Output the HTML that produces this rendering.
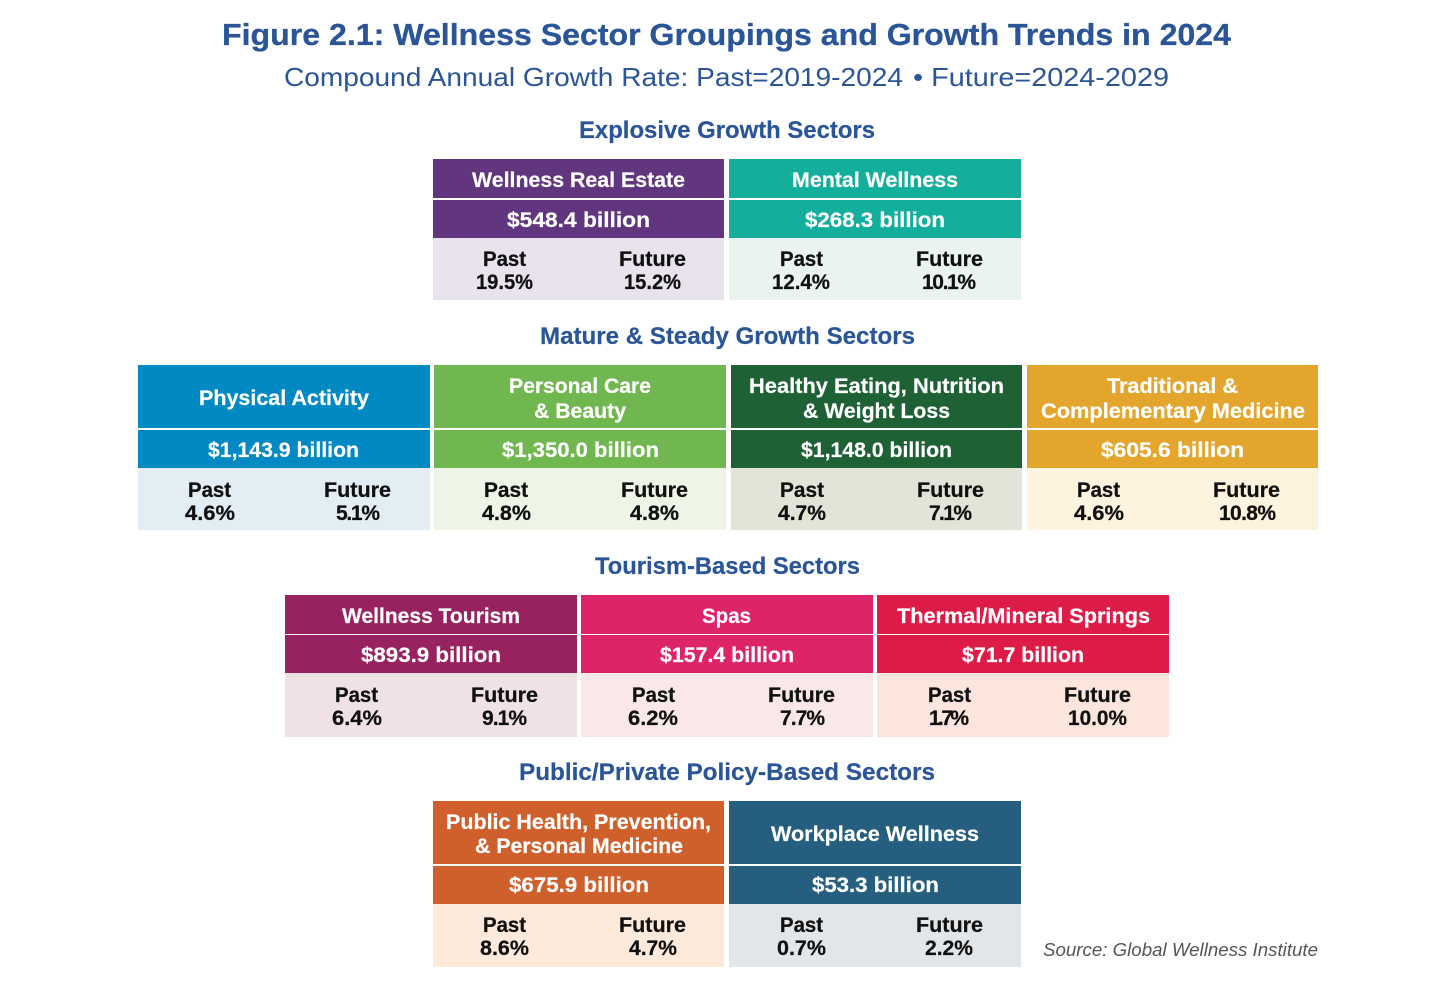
<!DOCTYPE html>
<html lang="en">
<head>
<meta charset="utf-8">
<title>Figure 2.1: Wellness Sector Groupings and Growth Trends in 2024</title>
<style>
html,body{margin:0;padding:0;background:#fff;width:1456px;height:986px;overflow:hidden}
svg{display:block;font-family:"Liberation Sans",sans-serif}
text{font-weight:700}
.title{font-size:31px;fill:#2a5596;stroke:#2a5596;stroke-width:.3px}
.sub{font-size:26px;fill:#2a5596;font-weight:400}
.sec{font-size:24px;fill:#2a5596;stroke:#2a5596;stroke-width:.2px}
.w{font-size:21px;fill:#fff;stroke:#fff;stroke-width:.2px}
.k{font-size:21px;fill:#111;stroke:#111;stroke-width:.25px}
.src{font-size:18px;fill:#555;font-weight:400;font-style:italic}
</style>
</head>
<body>
<svg width="1456" height="986" viewBox="0 0 1456 986">
<rect width="1456" height="986" fill="#fff"/>
<text class="title" x="222" y="45" textLength="1009" lengthAdjust="spacingAndGlyphs">Figure 2.1: Wellness Sector Groupings and Growth Trends in 2024</text>
<text class="sub" x="284" y="86" textLength="619" lengthAdjust="spacingAndGlyphs">Compound Annual Growth Rate: Past=2019-2024</text>
<text class="sub" x="913" y="86" textLength="256" lengthAdjust="spacingAndGlyphs">• Future=2024-2029</text>

<text class="sec" x="579" y="138" textLength="296" lengthAdjust="spacingAndGlyphs">Explosive Growth Sectors</text>

<g>
<rect x="433" y="159" width="291" height="39" fill="#62357f"/>
<rect x="433" y="200" width="291" height="38" fill="#62357f"/>
<rect x="433" y="238" width="291" height="62" fill="#e8e3ec"/>
<text class="w" x="472" y="187" textLength="213" lengthAdjust="spacingAndGlyphs">Wellness Real Estate</text>
<text class="w" x="507" y="227" textLength="143" lengthAdjust="spacingAndGlyphs">$548.4 billion</text>
<text class="k" x="483" y="266" textLength="43" lengthAdjust="spacingAndGlyphs">Past</text>
<text class="k" x="619" y="266" textLength="67" lengthAdjust="spacingAndGlyphs">Future</text>
<text class="k" x="476" y="289" textLength="57" lengthAdjust="spacingAndGlyphs">19.5%</text>
<text class="k" x="624" y="289" textLength="57" lengthAdjust="spacingAndGlyphs">15.2%</text>
</g>

<g>
<rect x="729" y="159" width="292" height="39" fill="#14ae9c"/>
<rect x="729" y="200" width="292" height="38" fill="#14ae9c"/>
<rect x="729" y="238" width="292" height="62" fill="#e9f3f0"/>
<text class="w" x="792" y="187" textLength="166" lengthAdjust="spacingAndGlyphs">Mental Wellness</text>
<text class="w" x="805" y="227" textLength="140" lengthAdjust="spacingAndGlyphs">$268.3 billion</text>
<text class="k" x="780" y="266" textLength="43" lengthAdjust="spacingAndGlyphs">Past</text>
<text class="k" x="916" y="266" textLength="67" lengthAdjust="spacingAndGlyphs">Future</text>
<text class="k" x="772" y="289" textLength="58" lengthAdjust="spacingAndGlyphs">12.4%</text>
<text class="k" x="922" y="289" textLength="54" lengthAdjust="spacing">10.1%</text>
</g>

<text class="sec" x="540" y="344" textLength="375" lengthAdjust="spacingAndGlyphs">Mature &amp; Steady Growth Sectors</text>

<g>
<rect x="138" y="365" width="292" height="63" fill="#0089c3"/>
<rect x="138" y="430" width="292" height="38" fill="#0089c3"/>
<rect x="138" y="468" width="292" height="62" fill="#e2edf4"/>
<text class="w" x="199" y="405" textLength="170" lengthAdjust="spacingAndGlyphs">Physical Activity</text>
<text class="w" x="208" y="457" textLength="151" lengthAdjust="spacingAndGlyphs">$1,143.9 billion</text>
<text class="k" x="188" y="497" textLength="43" lengthAdjust="spacingAndGlyphs">Past</text>
<text class="k" x="324" y="497" textLength="67" lengthAdjust="spacingAndGlyphs">Future</text>
<text class="k" x="185" y="520" textLength="50" lengthAdjust="spacingAndGlyphs">4.6%</text>
<text class="k" x="336" y="520" textLength="44" lengthAdjust="spacing">5.1%</text>
</g>

<g>
<rect x="434" y="365" width="292" height="63" fill="#70b74f"/>
<rect x="434" y="430" width="292" height="38" fill="#70b74f"/>
<rect x="434" y="468" width="292" height="62" fill="#eff5e6"/>
<text class="w" x="509" y="393" textLength="142" lengthAdjust="spacingAndGlyphs">Personal Care</text>
<text class="w" x="534" y="418" textLength="92" lengthAdjust="spacingAndGlyphs">&amp; Beauty</text>
<text class="w" x="502" y="457" textLength="157" lengthAdjust="spacingAndGlyphs">$1,350.0 billion</text>
<text class="k" x="484" y="497" textLength="44" lengthAdjust="spacingAndGlyphs">Past</text>
<text class="k" x="621" y="497" textLength="67" lengthAdjust="spacingAndGlyphs">Future</text>
<text class="k" x="482" y="520" textLength="49" lengthAdjust="spacingAndGlyphs">4.8%</text>
<text class="k" x="630" y="520" textLength="49" lengthAdjust="spacingAndGlyphs">4.8%</text>
</g>

<g>
<rect x="731" y="365" width="291" height="63" fill="#1e6134"/>
<rect x="731" y="430" width="291" height="38" fill="#1e6134"/>
<rect x="731" y="468" width="291" height="62" fill="#e0e5d8"/>
<text class="w" x="749" y="393" textLength="255" lengthAdjust="spacingAndGlyphs">Healthy Eating, Nutrition</text>
<text class="w" x="803" y="418" textLength="147" lengthAdjust="spacingAndGlyphs">&amp; Weight Loss</text>
<text class="w" x="801" y="457" textLength="151" lengthAdjust="spacingAndGlyphs">$1,148.0 billion</text>
<text class="k" x="780" y="497" textLength="44" lengthAdjust="spacingAndGlyphs">Past</text>
<text class="k" x="917" y="497" textLength="67" lengthAdjust="spacingAndGlyphs">Future</text>
<text class="k" x="778" y="520" textLength="48" lengthAdjust="spacingAndGlyphs">4.7%</text>
<text class="k" x="929" y="520" textLength="43" lengthAdjust="spacing">7.1%</text>
</g>

<g>
<rect x="1027" y="365" width="291" height="63" fill="#e3a52b"/>
<rect x="1027" y="430" width="291" height="38" fill="#e3a52b"/>
<rect x="1027" y="468" width="291" height="62" fill="#fef3de"/>
<text class="w" x="1107" y="393" textLength="131" lengthAdjust="spacingAndGlyphs">Traditional &amp;</text>
<text class="w" x="1041" y="418" textLength="264" lengthAdjust="spacingAndGlyphs">Complementary Medicine</text>
<text class="w" x="1101" y="457" textLength="143" lengthAdjust="spacingAndGlyphs">$605.6 billion</text>
<text class="k" x="1077" y="497" textLength="43" lengthAdjust="spacingAndGlyphs">Past</text>
<text class="k" x="1213" y="497" textLength="67" lengthAdjust="spacingAndGlyphs">Future</text>
<text class="k" x="1074" y="520" textLength="50" lengthAdjust="spacingAndGlyphs">4.6%</text>
<text class="k" x="1219" y="520" textLength="57" lengthAdjust="spacing">10.8%</text>
</g>

<text class="sec" x="595" y="574" textLength="265" lengthAdjust="spacingAndGlyphs">Tourism-Based Sectors</text>

<g>
<rect x="285" y="595" width="292" height="39" fill="#97225f"/>
<rect x="285" y="635" width="292" height="38" fill="#97225f"/>
<rect x="285" y="673" width="292" height="64" fill="#f0e1e5"/>
<text class="w" x="342" y="623" textLength="178" lengthAdjust="spacingAndGlyphs">Wellness Tourism</text>
<text class="w" x="361" y="662" textLength="140" lengthAdjust="spacingAndGlyphs">$893.9 billion</text>
<text class="k" x="335" y="702" textLength="43" lengthAdjust="spacingAndGlyphs">Past</text>
<text class="k" x="471" y="702" textLength="67" lengthAdjust="spacingAndGlyphs">Future</text>
<text class="k" x="332" y="725" textLength="50" lengthAdjust="spacingAndGlyphs">6.4%</text>
<text class="k" x="482" y="725" textLength="45" lengthAdjust="spacing">9.1%</text>
</g>

<g>
<rect x="581" y="595" width="292" height="39" fill="#dd2469"/>
<rect x="581" y="635" width="292" height="38" fill="#dd2469"/>
<rect x="581" y="673" width="292" height="64" fill="#fae8e9"/>
<text class="w" x="702" y="623" textLength="49" lengthAdjust="spacingAndGlyphs">Spas</text>
<text class="w" x="660" y="662" textLength="134" lengthAdjust="spacingAndGlyphs">$157.4 billion</text>
<text class="k" x="632" y="702" textLength="43" lengthAdjust="spacingAndGlyphs">Past</text>
<text class="k" x="768" y="702" textLength="67" lengthAdjust="spacingAndGlyphs">Future</text>
<text class="k" x="628" y="725" textLength="50" lengthAdjust="spacingAndGlyphs">6.2%</text>
<text class="k" x="780" y="725" textLength="45" lengthAdjust="spacing">7.7%</text>
</g>

<g>
<rect x="877" y="595" width="292" height="39" fill="#dc1c46"/>
<rect x="877" y="635" width="292" height="38" fill="#dc1c46"/>
<rect x="877" y="673" width="292" height="64" fill="#fce5dd"/>
<text class="w" x="897" y="623" textLength="253" lengthAdjust="spacingAndGlyphs">Thermal/Mineral Springs</text>
<text class="w" x="962" y="662" textLength="122" lengthAdjust="spacingAndGlyphs">$71.7 billion</text>
<text class="k" x="928" y="702" textLength="43" lengthAdjust="spacingAndGlyphs">Past</text>
<text class="k" x="1064" y="702" textLength="67" lengthAdjust="spacingAndGlyphs">Future</text>
<text class="k" x="929" y="725" textLength="40" lengthAdjust="spacing">1.7%</text>
<text class="k" x="1068" y="725" textLength="59" lengthAdjust="spacingAndGlyphs">10.0%</text>
</g>

<text class="sec" x="519" y="780" textLength="416" lengthAdjust="spacingAndGlyphs">Public/Private Policy-Based Sectors</text>

<g>
<rect x="433" y="801" width="291" height="63" fill="#cf5f2b"/>
<rect x="433" y="866" width="291" height="38" fill="#cf5f2b"/>
<rect x="433" y="904" width="291" height="63" fill="#fdeadb"/>
<text class="w" x="446" y="829" textLength="265" lengthAdjust="spacingAndGlyphs">Public Health, Prevention,</text>
<text class="w" x="475" y="853" textLength="208" lengthAdjust="spacingAndGlyphs">&amp; Personal Medicine</text>
<text class="w" x="509" y="892" textLength="140" lengthAdjust="spacingAndGlyphs">$675.9 billion</text>
<text class="k" x="483" y="932" textLength="43" lengthAdjust="spacingAndGlyphs">Past</text>
<text class="k" x="619" y="932" textLength="67" lengthAdjust="spacingAndGlyphs">Future</text>
<text class="k" x="480" y="955" textLength="49" lengthAdjust="spacingAndGlyphs">8.6%</text>
<text class="k" x="629" y="955" textLength="48" lengthAdjust="spacingAndGlyphs">4.7%</text>
</g>

<g>
<rect x="729" y="801" width="292" height="63" fill="#265e80"/>
<rect x="729" y="866" width="292" height="38" fill="#265e80"/>
<rect x="729" y="904" width="292" height="63" fill="#e3e6e9"/>
<text class="w" x="771" y="841" textLength="208" lengthAdjust="spacingAndGlyphs">Workplace Wellness</text>
<text class="w" x="812" y="892" textLength="127" lengthAdjust="spacingAndGlyphs">$53.3 billion</text>
<text class="k" x="780" y="932" textLength="43" lengthAdjust="spacingAndGlyphs">Past</text>
<text class="k" x="916" y="932" textLength="67" lengthAdjust="spacingAndGlyphs">Future</text>
<text class="k" x="777" y="955" textLength="49" lengthAdjust="spacingAndGlyphs">0.7%</text>
<text class="k" x="925" y="955" textLength="48" lengthAdjust="spacingAndGlyphs">2.2%</text>
</g>

<text class="src" x="1043" y="956" textLength="275" lengthAdjust="spacingAndGlyphs">Source: Global Wellness Institute</text>
</svg>
</body>
</html>
